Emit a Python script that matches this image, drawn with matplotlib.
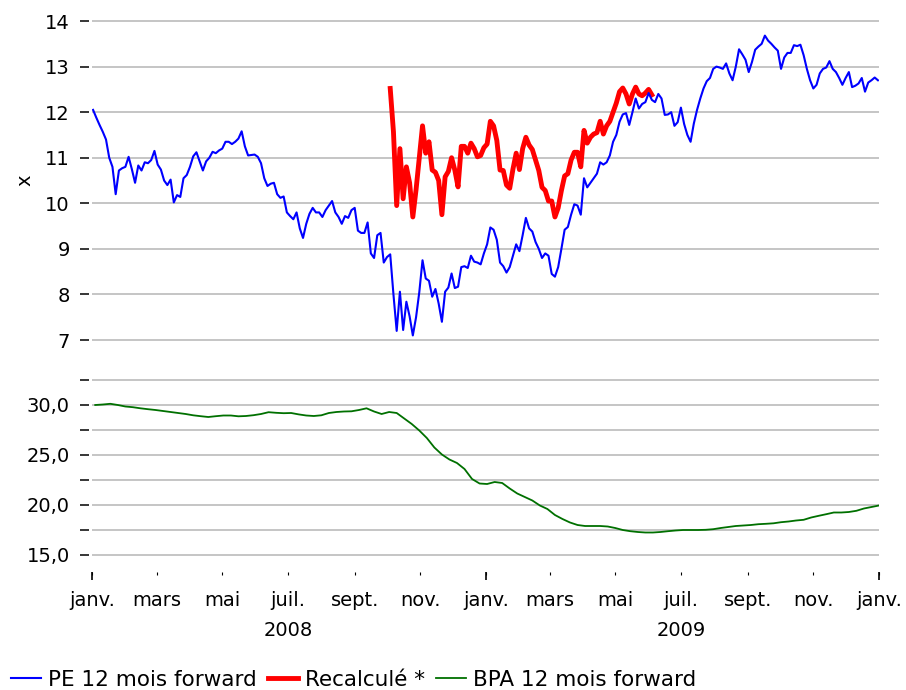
import numpy as np
import pandas as pd
import matplotlib
matplotlib.use("Agg")
import matplotlib.pyplot as plt
import matplotlib.transforms as mtransforms

plt.rcParams["font.family"] = ["DejaVu Sans"]

# PE 12 mois forward, sampled every 3 days from 2 Jan 2008
pe_values = [
    12.05, 11.88, 11.72, 11.57, 11.40, 11.00, 10.80, 10.20, 10.72, 10.77,
    10.80, 11.02, 10.75, 10.45, 10.83, 10.72, 10.90, 10.88, 10.95, 11.15,
    10.85, 10.74, 10.50, 10.40, 10.52, 10.02, 10.18, 10.14, 10.55, 10.62,
    10.80, 11.03, 11.12, 10.92, 10.72, 10.92, 11.00, 11.13, 11.10, 11.16,
    11.20, 11.35, 11.35, 11.30, 11.35, 11.42, 11.58, 11.25, 11.05, 11.06,
    11.07, 11.02, 10.88, 10.55, 10.38, 10.43, 10.45, 10.20, 10.12, 10.15,
    9.80, 9.72, 9.65, 9.80, 9.45, 9.24, 9.55, 9.77, 9.90, 9.80,
    9.80, 9.70, 9.85, 9.95, 10.05, 9.80, 9.70, 9.55, 9.72, 9.68,
    9.85, 9.90, 9.40, 9.35, 9.35, 9.58, 8.90, 8.80, 9.30, 9.35,
    8.70, 8.82, 8.88, 8.00, 7.20, 8.06, 7.22, 7.84, 7.52, 7.10,
    7.50, 8.05, 8.75, 8.35, 8.30, 7.95, 8.12, 7.80, 7.40, 8.06,
    8.15, 8.46, 8.14, 8.17, 8.60, 8.62, 8.58, 8.85, 8.72, 8.70,
    8.66, 8.90, 9.10, 9.47, 9.42, 9.20, 8.70, 8.62, 8.48, 8.60,
    8.85, 9.10, 8.95, 9.30, 9.68, 9.45, 9.38, 9.15, 9.00, 8.80,
    8.90, 8.85, 8.45, 8.39, 8.60, 9.00, 9.42, 9.48, 9.75, 9.98,
    9.95, 9.75, 10.55, 10.35, 10.45, 10.55, 10.65, 10.90, 10.85, 10.90,
    11.05, 11.35, 11.50, 11.79, 11.95, 11.98, 11.72, 12.00, 12.30, 12.08,
    12.18, 12.22, 12.42, 12.27, 12.22, 12.40, 12.30, 11.94, 11.95, 12.00,
    11.70, 11.78, 12.10, 11.74, 11.50, 11.35, 11.75, 12.05, 12.30, 12.52,
    12.68, 12.75, 12.95, 13.00, 12.98, 12.95, 13.07, 12.85, 12.70, 13.00,
    13.38, 13.27, 13.15, 12.88, 13.10, 13.37, 13.44, 13.50, 13.68, 13.57,
    13.50, 13.42, 13.35, 12.95, 13.20, 13.30, 13.30, 13.47, 13.45, 13.48,
    13.25, 12.95, 12.70, 12.52, 12.60, 12.85, 12.95, 12.98, 13.12, 12.95,
    12.88, 12.75, 12.60, 12.75, 12.88, 12.55, 12.58, 12.63, 12.75, 12.45,
    12.65, 12.70, 12.76, 12.70,
]
pe_dates = pd.date_range("2008-01-02", periods=len(pe_values), freq="3D")

# Recalculé *, same 3-day sampling, starting early October 2008
recalc_start = 92
recalc_values = [
    12.52, 11.57, 9.95, 11.20, 10.10, 10.80, 10.45, 9.70, 10.30, 11.00,
    11.70, 11.10, 11.35, 10.73, 10.68, 10.50, 9.75, 10.58, 10.70, 11.00,
    10.73, 10.36, 11.25, 11.25, 11.10, 11.32, 11.20, 11.02, 11.05, 11.22,
    11.30, 11.80, 11.70, 11.38, 10.73, 10.72, 10.40, 10.33, 10.75, 11.10,
    10.74, 11.20, 11.45, 11.28, 11.18, 10.95, 10.72, 10.35, 10.28, 10.05,
    10.05, 9.70, 9.90, 10.28, 10.60, 10.65, 10.95, 11.12, 11.12, 10.80,
    11.60, 11.32, 11.45, 11.52, 11.55, 11.80, 11.52, 11.70, 11.80, 12.00,
    12.20, 12.45, 12.53, 12.40, 12.18, 12.40, 12.55, 12.40, 12.36, 12.42,
    12.50, 12.38,
]
recalc_dates = pe_dates[recalc_start:recalc_start + len(recalc_values)]

# BPA 12 mois forward, weekly
bpa_values = [
    30.00, 30.05, 30.12, 30.00, 29.85, 29.78, 29.67, 29.58, 29.50, 29.40,
    29.30, 29.20, 29.10, 28.97, 28.88, 28.80, 28.88, 28.95, 28.95, 28.87,
    28.90, 28.98, 29.10, 29.28, 29.22, 29.18, 29.20, 29.06, 28.95, 28.90,
    28.97, 29.20, 29.30, 29.35, 29.37, 29.50, 29.67, 29.35, 29.10, 29.30,
    29.20, 28.65, 28.10, 27.45, 26.70, 25.75, 25.05, 24.55, 24.20, 23.60,
    22.60, 22.15, 22.10, 22.30, 22.20, 21.65, 21.15, 20.80, 20.45, 19.95,
    19.60, 19.00, 18.60, 18.25, 18.00, 17.90, 17.90, 17.90, 17.85, 17.70,
    17.50, 17.38, 17.30, 17.25, 17.25, 17.30, 17.38, 17.45, 17.50, 17.50,
    17.50, 17.52, 17.58, 17.70, 17.80, 17.90, 17.95, 18.00, 18.08, 18.12,
    18.17, 18.28, 18.35, 18.45, 18.52, 18.75, 18.92, 19.08, 19.25, 19.25,
    19.30, 19.42, 19.65, 19.80, 19.95,
]
bpa_dates = pd.date_range("2008-01-04", periods=len(bpa_values), freq="7D")

pe_ticks = list(range(7, 15))
bpa_major = [15, 20, 25, 30]
bpa_major_labels = ["15,0", "20,0", "25,0", "30,0"]
bpa_minor = [17.5, 22.5, 27.5, 32.5]

month_dates = pd.date_range("2008-01-01", "2010-01-01", freq="2MS")
month_labels = ["janv.", "mars", "mai", "juil.", "sept.", "nov."] * 2 + ["janv."]
year_dates = pd.to_datetime(["2008-07-01", "2009-07-01"])
year_labels = ["2008", "2009"]
jan_dates = pd.to_datetime(["2008-01-01", "2009-01-01", "2010-01-01"])

grid_color = "#c0c0c0"
fs = 14
legend_fs = 15.5

fig = plt.figure(figsize=(9.06, 6.9), dpi=100)
left, width = 92 / 906, 787 / 906
ax_top = fig.add_axes([left, 1 - 362.8 / 690, width, 360 / 690])
ax_bot = fig.add_axes([left, 1 - 572 / 690, width, 197 / 690])

xlim = (pd.Timestamp("2008-01-01"), pd.Timestamp("2010-01-01"))

for ax in (ax_top, ax_bot):
    for s in ax.spines.values():
        s.set_visible(False)
    ax.spines["left"].set_position(("outward", 2))
    ax.set_xlim(*xlim)
    ax.set_axisbelow(True)
    ax.tick_params(axis="y", which="both", length=6.5, width=1.1, pad=7.5,
                   labelsize=fs, color="black")

# upper panel: PE
h_pe, = ax_top.plot(pe_dates, pe_values, color="#0000ff", lw=1.5, zorder=3,
                    label="PE 12 mois forward")
h_rc, = ax_top.plot(recalc_dates, recalc_values, color="#ff0000", lw=3.5,
                    zorder=2, label="Recalculé *")
ax_top.set_ylim(6.5, 14.4)
ax_top.set_yticks(pe_ticks)
ax_top.yaxis.grid(True, color=grid_color, lw=1.3)
ax_top.set_xticks([])

# lower panel: BPA
h_bpa, = ax_bot.plot(bpa_dates, bpa_values, color="#007000", lw=1.3,
                     label="BPA 12 mois forward")
ax_bot.set_ylim(13.3, 33.0)
ax_bot.set_yticks(bpa_major)
ax_bot.set_yticklabels(bpa_major_labels)
ax_bot.set_yticks(bpa_minor, minor=True)
ax_bot.yaxis.grid(True, which="both", color=grid_color, lw=1.3)

ax_bot.xaxis.remove_overlapping_locs = False
ax_bot.set_xticks(month_dates)
ax_bot.set_xticklabels(month_labels)
ax_bot.set_xticks(jan_dates, minor=True)
ax_bot.tick_params(axis="x", which="major", length=2.4, width=0.8, pad=11,
                   labelsize=fs)
ax_bot.tick_params(axis="x", which="minor", length=6, width=1.2,
                   labelbottom=False)

yr_trans = mtransforms.blended_transform_factory(ax_bot.transData, fig.transFigure)
for d, lab in zip(year_dates, year_labels):
    ax_bot.text(d, 1 - 630 / 690, lab, transform=yr_trans, ha="center",
                va="center", fontsize=fs)

fig.text(25 / 906, 1 - 180 / 690, "x", rotation=90, ha="center", va="center",
         fontsize=fs)

fig.legend(handles=[h_pe, h_rc, h_bpa], loc="center left",
           bbox_to_anchor=(0.012, 1 - 680 / 690), ncol=3, frameon=False,
           fontsize=legend_fs, handlelength=1.4, handletextpad=0.33,
           columnspacing=0.5, borderaxespad=0.0, borderpad=0.0)

fig.savefig("out.png", dpi=100)
